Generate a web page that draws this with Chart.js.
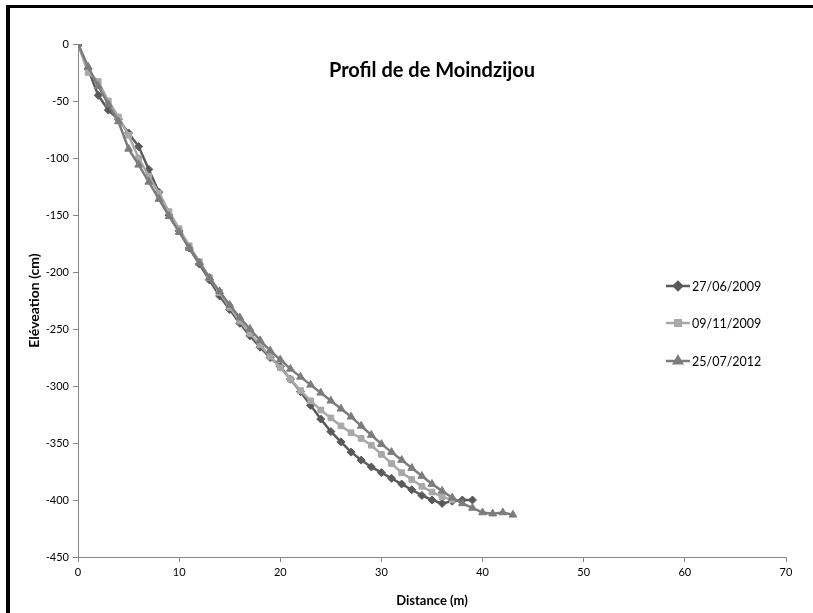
<!DOCTYPE html>
<html>
<head>
<meta charset="utf-8">
<script src="https://cdn.jsdelivr.net/npm/chart.js@4"></script>
<style>
  html,body{margin:0;padding:0;background:#fff}
  #wrap{position:relative;width:813px;height:613px}
  #frame{position:absolute;left:6px;top:5px;width:807px;height:608px;
         border-top:3px solid #000;border-left:4px solid #000;pointer-events:none}
</style>
</head>
<body>
<div id="wrap">
  <canvas id="c" width="813" height="613"></canvas>
  <div id="frame"></div>
</div>
<script>
/* données */
const TITLE = 'Profil de de Moindzijou';
const SERIES_NAMES = ['27/06/2009', '09/11/2009', '25/07/2012'];

const X_2009_06 = [0,1,2,3,4,5,6,7,8,9,10,11,12,13,14,15,16,17,18,19,20,21,22,23,24,25,26,27,28,29,30,31,32,33,34,35,36,37,38,39];
const Y_2009_06 = [0,-22,-45,-58,-66,-78,-90,-110,-130,-150,-164,-179,-193,-207,-221,-233,-245,-256,-266,-275,-283,-294,-305,-317,-329,-340,-349,-358,-365,-371,-376,-381,-386,-391,-396,-400,-403,-401,-400,-400];

const X_2009_11 = [0,1,2,3,4,5,6,7,8,9,10,11,12,13,14,15,16,17,18,19,20,21,22,23,24,25,26,27,28,29,30,31,32,33,34,35,36,37];
const Y_2009_11 = [0,-25,-33,-50,-64,-80,-100,-116,-131,-147,-162,-177,-191,-205,-218,-231,-243,-254,-264,-274,-284,-294,-304,-313,-321,-328,-335,-341,-346,-352,-360,-368,-376,-382,-388,-393,-397,-400];

const X_2012_07 = [0,1,2,3,4,5,6,7,8,9,10,11,12,13,14,15,16,17,18,19,20,21,22,23,24,25,26,27,28,29,30,31,32,33,34,35,36,37,38,39,40,41,42,43];
const Y_2012_07 = [0,-20,-37,-53,-68,-92,-106,-121,-136,-151,-165,-179,-192,-205,-217,-229,-240,-250,-260,-269,-277,-285,-292,-299,-306,-313,-320,-327,-335,-343,-351,-358,-365,-372,-379,-386,-392,-398,-403,-407,-411,-412,-411,-413];

const X_TICKS = [0,10,20,30,40,50,60,70];
const Y_TICKS = [0,-50,-100,-150,-200,-250,-300,-350,-400,-450];

const COLORS = ['#5a5a5a', '#a8a8a8', '#7c7c7c'];
const STYLES = ['rectRot', 'rect', 'triangle'];
const RADII  = [4, 4, 4.5];

const pts = (xs, ys) => xs.map((x,i)=>({x, y:ys[i]}));
const AXIS = '#868686';
const FONT = 'Lato, "Open Sans", sans-serif';

/* titre + légende dessinés dans la zone du graphique (comme Excel) */
const overlay = {
  id:'overlay',
  afterDraw(chart){
    const ctx = chart.ctx;
    ctx.save();
    ctx.fillStyle = '#000';
    ctx.font = 'bold 20px ' + FONT;
    ctx.textAlign = 'center'; ctx.textBaseline = 'middle';
    ctx.fillText(TITLE, 432, 71);

    const lx = 666, ys = [286, 323, 361];
    ctx.font = '12.5px ' + FONT;
    ctx.textAlign = 'left';
    chart.data.datasets.forEach((ds,i)=>{
      const y = ys[i];
      ctx.strokeStyle = ds.borderColor; ctx.lineWidth = 2.5;
      ctx.beginPath(); ctx.moveTo(lx, y); ctx.lineTo(lx+24, y); ctx.stroke();
      ctx.fillStyle = ds.borderColor;
      Chart.helpers.drawPoint(ctx, {pointStyle:STYLES[i], radius:RADII[i], rotation:0, borderWidth:1}, lx+12, y);
      ctx.fillStyle = '#000';
      ctx.fillText(SERIES_NAMES[i], lx+26, y+1);
    });
    ctx.restore();
  }
};

const sets = [[X_2009_06,Y_2009_06],[X_2009_11,Y_2009_11],[X_2012_07,Y_2012_07]];

new Chart(document.getElementById('c'), {
  type:'scatter',
  data:{
    datasets: sets.map((s,i)=>({
      label: SERIES_NAMES[i],
      data: pts(s[0], s[1]),
      showLine:true,
      borderColor: COLORS[i], backgroundColor: COLORS[i],
      borderWidth: 2.5,
      pointStyle: STYLES[i], pointRadius: RADII[i],
      pointBorderWidth: 1, pointBorderColor: COLORS[i],
      order: 3 - i
    }))
  },
  options:{
    responsive:false, animation:false,
    layout:{padding:{left:26, top:44, right:27, bottom:4}},
    plugins:{legend:{display:false}, tooltip:{enabled:false}},
    scales:{
      x:{
        type:'linear', min:0, max:70,
        afterBuildTicks: s => { s.ticks = X_TICKS.map(v=>({value:v})); },
        afterFit: s => { s.height = 52; },
        grid:{drawOnChartArea:false, drawTicks:true, tickLength:5, color:AXIS},
        border:{color:AXIS, width:1},
        ticks:{color:'#000', font:{family:FONT, size:11}, padding:4, maxRotation:0},
        title:{display:true, text:'Distance (m)', color:'#000',
               font:{family:FONT, size:13, weight:'bold'}, padding:{top:4, bottom:0}}
      },
      y:{
        type:'linear', min:-450, max:0,
        afterBuildTicks: s => { s.ticks = Y_TICKS.map(v=>({value:v})); },
        afterFit: s => { s.width = 52; },
        grid:{drawOnChartArea:false, drawTicks:true, tickLength:5, color:AXIS},
        border:{color:AXIS, width:1},
        ticks:{color:'#000', font:{family:FONT, size:11}, padding:4},
        title:{display:true, text:'Eléveation (cm)', color:'#000',
               font:{family:FONT, size:14, weight:'bold'}, padding:0}
      }
    }
  },
  plugins:[overlay]
});
</script>
</body>
</html>
